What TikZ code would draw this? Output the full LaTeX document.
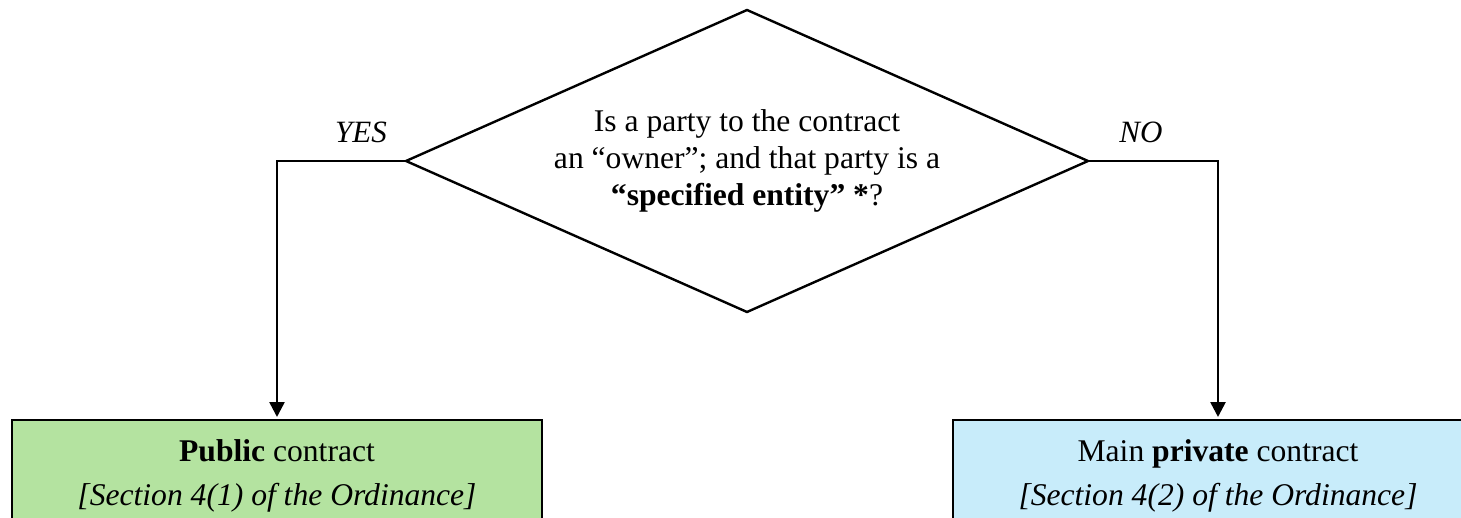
\documentclass[tikz,border=0pt]{standalone}
\usepackage{fontspec}
\setmainfont{Liberation Serif}
\usetikzlibrary{shapes.geometric,arrows.meta}
\definecolor{pubgreen}{RGB}{180,227,160}
\definecolor{privblue}{RGB}{200,236,250}
\begin{document}
\begin{tikzpicture}[x=1pt,y=-1pt,
  every node/.style={font=\fontsize{31.6}{37}\selectfont},
  decision/.style={shape=diamond, draw, line width=2.4pt, minimum width=682pt, minimum height=302pt, inner sep=0pt, outer sep=0pt, aspect=2.26, align=center},
  outcome/.style={draw, line width=1.8pt, minimum width=530pt, minimum height=111pt, anchor=north, align=center, inner sep=0pt, outer sep=0pt, font=\fontsize{31.6}{44}\selectfont},
  conn/.style={line width=2.6pt, -{Triangle[length=15pt,width=15pt]}, shorten >=3pt},
  branch/.style={font=\fontsize{31}{37}\selectfont\itshape}
]
\useasboundingbox (0,0) rectangle (1461,518);
\clip (0,0) rectangle (1461,518);
\node[decision] (d) at (747,161) {Is a party to the contract\\an “owner”; and that party is a\\\textbf{“specified entity” *}?};
\node[outcome, fill=pubgreen] (pub) at (277,420) {\textbf{Public} contract\\\textit{[Section 4(1) of the Ordinance]}};
\node[outcome, fill=privblue] (priv) at (1218,420) {Main \textbf{private} contract\\\textit{[Section 4(2) of the Ordinance]}};
\node[branch] (yes) at (361,132) {YES};
\node[branch] (no) at (1141,132) {NO};
\draw[conn] (d.west) -| (pub.north);
\draw[conn] (d.east) -| (priv.north);
\end{tikzpicture}
\end{document}
